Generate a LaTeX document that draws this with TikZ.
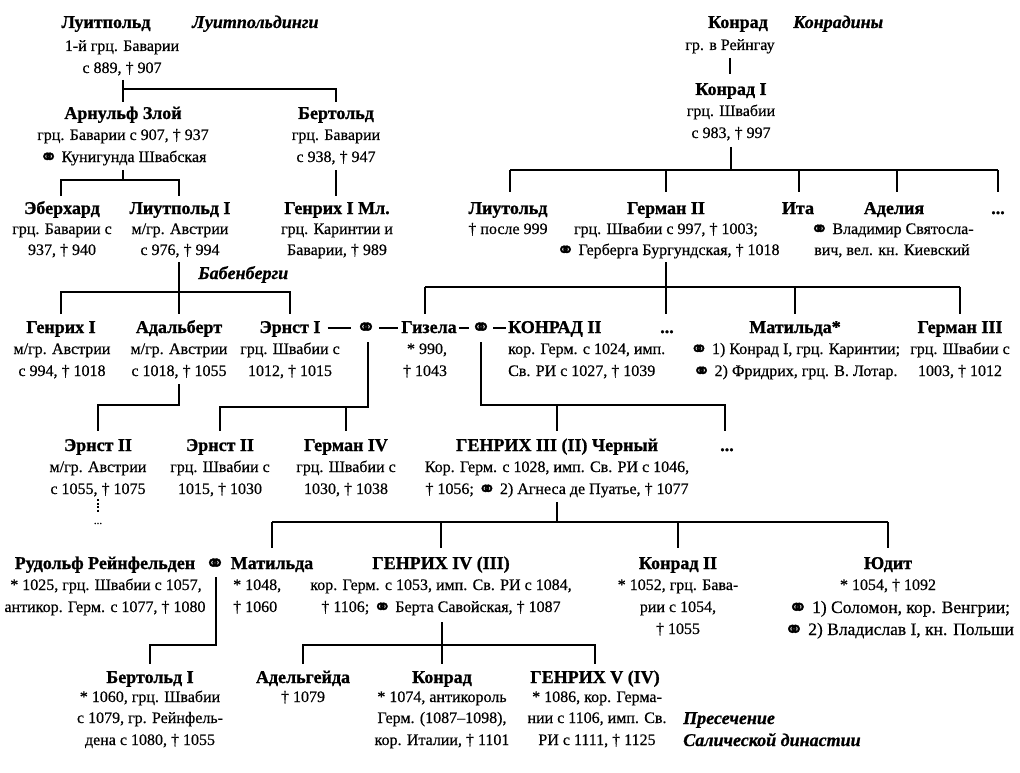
\documentclass[tikz,border=0pt]{standalone}
\usepackage{graphicx}
\usepackage{fontspec}
\setmainfont{Liberation Serif}[UprightFeatures={FakeBold=0.5},BoldFeatures={FakeBold=1},BoldItalicFeatures={FakeBold=0.8}]
\newfontfamily\symf{DejaVu Sans}[FakeBold=1.5]
\newcommand\mar{{\symf\mdseries\upshape\raisebox{-0.14em}{\scalebox{1.35}{\char"26AD}}}}
\tikzset{
  tt/.style={font=\bfseries\fontsize{18}{20}\selectfont, anchor=base, inner sep=0pt},
  dt/.style={font=\fontsize{16}{20}\selectfont, anchor=base, inner sep=0pt},
  dtl/.style={font=\fontsize{17.5}{20}\selectfont, anchor=base, inner sep=0pt},
  dy/.style={font=\bfseries\itshape\fontsize{18}{20}\selectfont, anchor=base west, inner sep=0pt},
  ln/.style={line width=2pt},
  dl/.style={line width=1.3pt},
}
\newcommand\pT[4]{\node[tt] (#1) at (#2,#3+6) {#4};}
\newcommand\pD[4]{\node[dt] (#1) at (#2,#3+5) {#4};}
\begin{document}
\begin{tikzpicture}[x=1pt,y=-1pt]
\useasboundingbox (0,0) rectangle (1020,773);
\fill[white] (0,0) rectangle (1020,773);

% ---------- Luitpoldings ----------
\pT{luit}{106}{22}{Луитпольд}
\node[dy] (luitdyn) at (192,28) {Луитпольдинги};
\pD{luit1}{122}{46}{1-й грц. Баварии}
\pD{luit2}{122}{68}{с 889, † 907}

\pT{arn}{123}{113}{Арнульф Злой}
\pD{arn1}{123}{135}{грц. Баварии с 907, † 937}
\pD{arn2}{123}{157}{\mar{} Кунигунда Швабская}

\pT{bert}{336}{113}{Бертольд}
\pD{bert1}{336}{135}{грц. Баварии}
\pD{bert2}{336}{157}{с 938, † 947}

\pT{eber}{62}{208}{Эберхард}
\pD{eber1}{62}{229}{грц. Баварии с}
\pD{eber2}{62}{250}{937, † 940}

\pT{liut}{180}{208}{Лиутпольд I}
\pD{liut1}{180}{229}{м/гр. Австрии}
\pD{liut2}{180}{250}{с 976, † 994}

\pT{hml}{337}{208}{Генрих I Мл.}
\pD{hml1}{337}{229}{грц. Каринтии и}
\pD{hml2}{337}{250}{Баварии, † 989}

\node[dy] (babdyn) at (198,279) {Бабенберги};

% ---------- Row 4 ----------
\pT{hen1}{61}{327}{Генрих I}
\pD{hen1a}{62}{349}{м/гр. Австрии}
\pD{hen1b}{62}{371}{с 994, † 1018}
\pT{adal}{179}{327}{Адальберт}
\pD{adal1}{179}{349}{м/гр. Австрии}
\pD{adal2}{179}{371}{с 1018, † 1055}
\pT{ern1}{290}{327}{Эрнст I}
\pD{ern1a}{290}{349}{грц. Швабии с}
\pD{ern1b}{290}{371}{1012, † 1015}
\pT{mar1}{366}{327}{\mar}
\pT{gis}{429}{327}{Гизела}
\pD{gisa}{427}{349}{* 990,}
\pD{gisb}{425}{371}{† 1043}
\pT{mar2}{481}{327}{\mar}
\node[tt, anchor=base west] (kon2) at (508,333) {КОНРАД II};
\node[dt, anchor=base west] (kon2a) at (508,354) {кор. Герм. с 1024, имп.};
\node[dt, anchor=base west] (kon2b) at (508,376) {Св. РИ с 1027, † 1039};
\pT{dotsA}{667}{327}{...}
\pT{matk}{795}{327}{Матильда*}
\pD{matk1}{795}{349}{\mar{} 1) Конрад I, грц. Каринтии;}
\pD{matk2}{795}{371}{\mar{} 2) Фридрих, грц. В. Лотар.}
\pT{her3}{960}{327}{Герман III}
\pD{her3a}{960}{349}{грц. Швабии с}
\pD{her3b}{960}{371}{1003, † 1012}

\draw[dl] ([xshift=7pt,yshift=5pt]ern1.base east) -- ([xshift=-5pt,yshift=5pt]mar1.base west);
\draw[dl] ([xshift=3pt,yshift=5pt]mar1.base east) -- ([xshift=-3pt,yshift=5pt]gis.base west);
\draw[dl] ([xshift=2pt,yshift=5pt]gis.base east) -- ([xshift=-2pt,yshift=5pt]mar2.base west);
\draw[dl] ([xshift=2pt,yshift=5pt]mar2.base east) -- ([xshift=-2pt,yshift=5pt]kon2.base west);

% ---------- Conradines ----------
\pT{kon}{738}{22}{Конрад}
\node[dy] (kondyn) at (793,28) {Конрадины};
\pD{kon0}{730}{45}{гр. в Рейнгау}
\pT{konI}{731}{89}{Конрад I}
\pD{konIa}{731}{111}{грц. Швабии}
\pD{konIb}{731}{133}{с 983, † 997}

\pT{liutold}{508}{208}{Лиутольд}
\pD{liutold1}{508}{229}{† после 999}
\pT{her2}{666}{208}{Герман II}
\pD{her2a}{666}{229}{грц. Швабии с 997, † 1003;}
\pD{her2b}{668}{250}{\mar{} Герберга Бургундская, † 1018}
\pT{ita}{798}{208}{Ита}
\pT{adel}{894}{208}{Аделия}
\pD{adel1}{892}{229}{\mar{} Владимир Святосла-}
\pD{adel2}{892}{250}{вич, вел. кн. Киевский}
\pT{dotsB}{998}{208}{...}

% ---------- Row 5 ----------
\pT{ern2m}{98}{445}{Эрнст II}
\pD{ern2ma}{98}{467}{м/гр. Австрии}
\pD{ern2mb}{98}{489}{с 1055, † 1075}
\node[dt, font=\fontsize{11}{12}\selectfont] (ern2dots) at (98,524) {...};
\pT{ern2s}{220}{445}{Эрнст II}
\pD{ern2sa}{220}{467}{грц. Швабии с}
\pD{ern2sb}{220}{489}{1015, † 1030}
\pT{her4}{346}{445}{Герман IV}
\pD{her4a}{346}{467}{грц. Швабии с}
\pD{her4b}{346}{489}{1030, † 1038}
\pT{hen3}{557}{445}{ГЕНРИХ III (II) Черный}
\pD{hen3a}{557}{467}{Кор. Герм. с 1028, имп. Св. РИ с 1046,}
\pD{hen3b}{557}{489}{† 1056; \mar{} 2) Агнеса де Пуатье, † 1077}
\pT{dotsC}{727}{445}{...}

% ---------- Row 6 ----------
\pT{rud}{105}{563}{Рудольф Рейнфельден}
\pT{marR}{215}{563}{\mar}
\pT{matI}{272}{563}{Матильда}
\pD{ruda}{106}{585}{* 1025, грц. Швабии с 1057,}
\pD{rudb}{105}{607}{антикор. Герм. с 1077, † 1080}
\node[dt, anchor=base west] (matIa) at (233,590) {* 1048,};
\node[dt, anchor=base west] (matIb) at (233,612) {† 1060};
\pT{hen4}{441}{563}{ГЕНРИХ IV (III)}
\pD{hen4a}{441}{585}{кор. Герм. с 1053, имп. Св. РИ с 1084,}
\pD{hen4b}{441}{607}{† 1106; \mar{} Берта Савойская, † 1087}
\pT{kon2b}{678}{563}{Конрад II}
\pD{kon2ba}{678}{585}{* 1052, грц. Бава-}
\pD{kon2bb}{678}{607}{рии с 1054,}
\pD{kon2bc}{678}{629}{† 1055}
\pT{jud}{888}{563}{Юдит}
\pD{juda}{888}{585}{* 1054, † 1092}
\node[dtl] (judb) at (899,613) {\mar{} 1) Соломон, кор. Венгрии;};
\node[dtl] (judc) at (899,635) {\mar{} 2) Владислав I, кн. Польши};

% ---------- Row 7 ----------
\pT{bertI}{150}{677}{Бертольд I}
\pD{bertIa}{150}{697}{* 1060, грц. Швабии}
\pD{bertIb}{150}{718}{с 1079, гр. Рейнфель-}
\pD{bertIc}{150}{740}{дена с 1080, † 1055}
\pT{adg}{303}{677}{Адельгейда}
\pD{adga}{303}{697}{† 1079}
\pT{konr}{442}{677}{Конрад}
\pD{konra}{442}{697}{* 1074, антикороль}
\pD{konrb}{442}{718}{Герм. (1087–1098),}
\pD{konrc}{442}{740}{кор. Италии, † 1101}
\pT{hen5}{595}{677}{ГЕНРИХ V (IV)}
\pD{hen5a}{597}{697}{* 1086, кор. Герма-}
\pD{hen5b}{597}{718}{нии с 1106, имп. Св.}
\pD{hen5c}{597}{740}{РИ с 1111, † 1125}
\node[dy] (endA) at (683,724) {Пресечение};
\node[dy] (endB) at (683,746) {Салической династии};

% ---------- connectors ----------
% Luitpold
\coordinate (c1a) at (123,80); \coordinate (c1j) at (123,89);
\coordinate (c1b) at (123,102); \coordinate (c1r) at (336,89); \coordinate (c1c) at (336,102);
\draw[ln] (c1a) -- (c1b);
\draw[ln] (c1j) -- (c1r) -- (c1c);
% Arnulf
\coordinate (c2a) at (123,170); \coordinate (c2j) at (123,180);
\coordinate (c2l) at (61,180); \coordinate (c2r) at (179,180);
\coordinate (c2lb) at (61,196); \coordinate (c2rb) at (179,196);
\draw[ln] (c2a) -- (c2j);
\draw[ln] (c2lb) -- (c2l) -- (c2r) -- (c2rb);
% Berthold
\coordinate (c3a) at (336,170); \coordinate (c3b) at (336,196);
\draw[ln] (c3a) -- (c3b);
% Liutpold I
\coordinate (c4a) at (179,262); \coordinate (c4b) at (179,314);
\coordinate (c4l) at (61,292); \coordinate (c4r) at (290,292);
\coordinate (c4lb) at (61,314); \coordinate (c4rb) at (290,314);
\draw[ln] (c4a) -- (c4b);
\draw[ln] (c4lb) -- (c4l) -- (c4r) -- (c4rb);
% Konrad
\coordinate (c5a) at (730,58); \coordinate (c5b) at (730,74);
\draw[ln] (c5a) -- (c5b);
% Konrad I
\coordinate (c6a) at (731,147); \coordinate (c6j) at (731,170);
\coordinate (c6l) at (510,170); \coordinate (c6r) at (998,170);
\draw[ln] (c6a) -- (c6j);
\draw[ln] (c6l) -- (c6r);
\foreach \x [count=\i] in {510,666,799,897,998}{
  \coordinate (c6t\i) at (\x,170); \coordinate (c6b\i) at (\x,192);
  \draw[ln] (c6t\i) -- (c6b\i);
}
% Hermann II
\coordinate (c7a) at (666,262); \coordinate (c7b) at (666,314);
\coordinate (c7l) at (425,287); \coordinate (c7r) at (960,287);
\draw[ln] (c7a) -- (c7b);
\draw[ln] (c7l) -- (c7r);
\foreach \x [count=\i] in {425,795,960}{
  \coordinate (c7t\i) at (\x,287); \coordinate (c7b\i) at (\x,314);
  \draw[ln] (c7t\i) -- (c7b\i);
}
% Adalbert
\coordinate (c8a) at (179,384); \coordinate (c8j) at (179,405);
\coordinate (c8l) at (98,405); \coordinate (c8b) at (98,431);
\draw[ln] (c8a) -- (c8j) -- (c8l) -- (c8b);
% Ernst I + Gisela
\coordinate (c9a) at (368,342); \coordinate (c9j) at (368,407);
\coordinate (c9l) at (220,407); \coordinate (c9lb) at (220,431);
\coordinate (c9m) at (346,407); \coordinate (c9mb) at (346,431);
\draw[ln] (c9a) -- (c9j) -- (c9l) -- (c9lb);
\draw[ln] (c9m) -- (c9mb);
% Gisela + Konrad II
\coordinate (c10a) at (481,342); \coordinate (c10j) at (481,405);
\coordinate (c10r) at (725,405); \coordinate (c10rb) at (725,431);
\coordinate (c10m) at (557,405); \coordinate (c10mb) at (557,431);
\draw[ln] (c10a) -- (c10j) -- (c10r) -- (c10rb);
\draw[ln] (c10m) -- (c10mb);
% Ernst II dotted
\coordinate (c11a) at (98,499); \coordinate (c11b) at (98,512);
\draw[line width=1.3pt, dash pattern=on 2pt off 1.5pt] (c11a) -- (c11b);
% Heinrich III
\coordinate (c12a) at (557,502); \coordinate (c12j) at (557,522);
\coordinate (c12l) at (272,522); \coordinate (c12r) at (888,522);
\draw[ln] (c12a) -- (c12j);
\draw[ln] (c12l) -- (c12r);
\foreach \x [count=\i] in {272,441,678,888}{
  \coordinate (c12t\i) at (\x,522); \coordinate (c12b\i) at (\x,548);
  \draw[ln] (c12t\i) -- (c12b\i);
}
% Rudolf + Mathilde
\coordinate (c13a) at (216,577); \coordinate (c13j) at (216,645);
\coordinate (c13l) at (150,645); \coordinate (c13b) at (150,664);
\draw[ln] (c13a) -- (c13j) -- (c13l) -- (c13b);
% Heinrich IV
\coordinate (c14a) at (442,622); \coordinate (c14b) at (442,664);
\coordinate (c14l) at (303,645); \coordinate (c14r) at (595,645);
\coordinate (c14lb) at (303,664); \coordinate (c14rb) at (595,664);
\draw[ln] (c14a) -- (c14b);
\draw[ln] (c14lb) -- (c14l) -- (c14r) -- (c14rb);
\end{tikzpicture}
\end{document}
